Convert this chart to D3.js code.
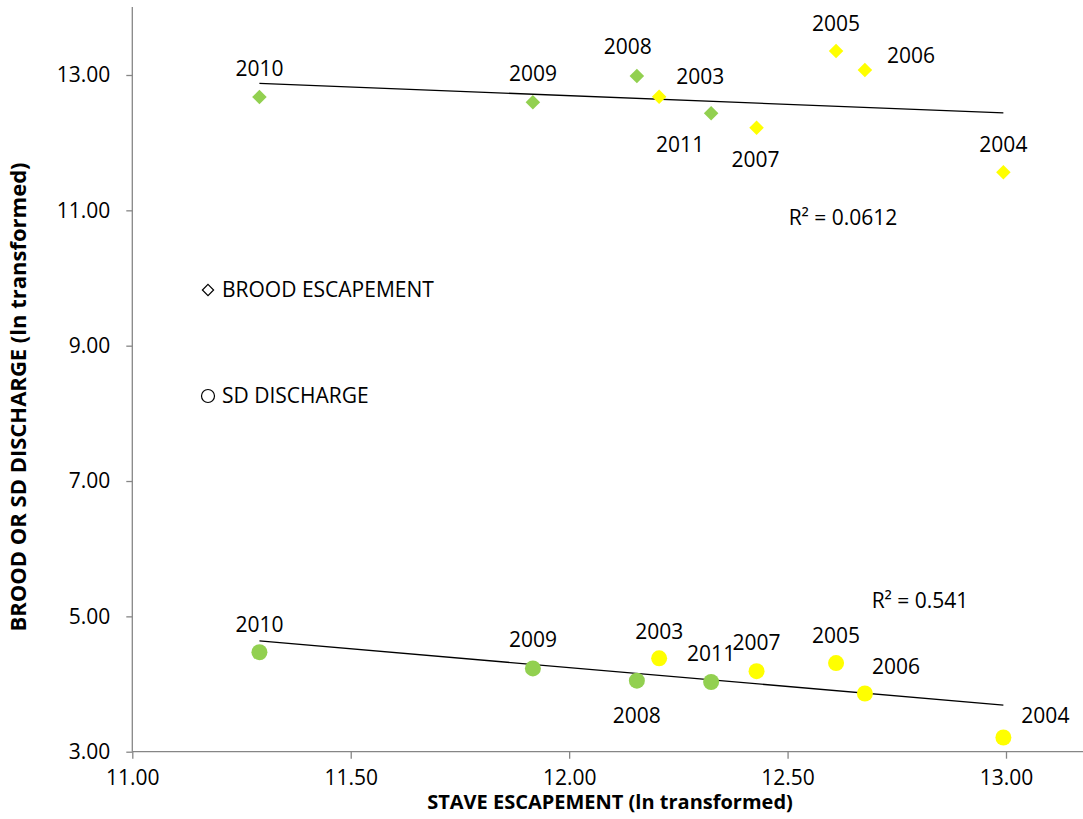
<!DOCTYPE html>
<html><head><meta charset="utf-8">
<script src="https://cdn.jsdelivr.net/npm/d3@7"></script>
<style>
html,body{margin:0;padding:0;background:#fff;}
svg text{font-family:"Open Sans",sans-serif;fill:#000;}
</style></head>
<body><svg id="chart" width="1083" height="819"></svg>
<script>
// ---- data ----
const years = ["2010","2009","2008","2003","2011","2007","2005","2006","2004"];
const staveEscapement = [11.291,11.917,12.155,12.206,12.325,12.429,12.611,12.677,12.994];
const broodEscapement = [12.675,12.597,12.985,12.679,12.434,12.221,13.355,13.074,11.562];
const sdDischarge = [4.47,4.23,4.05,4.38,4.03,4.19,4.31,3.86,3.21];
const group = ["recent","recent","recent","early","recent","early","early","early","early"];
const xTicks = [11.0,11.5,12.0,12.5,13.0];
const yTicks = [3,5,7,9,11,13];
const r2Brood = "R² = 0.0612";
const r2Discharge = "R² = 0.541";
const legendLabels = ["BROOD ESCAPEMENT","SD DISCHARGE"];
const xTitle = "STAVE ESCAPEMENT (ln transformed)";
const yTitle = "BROOD OR SD DISCHARGE (ln transformed)";

// ---- layout / style (not data) ----
const colors = {recent:"#92D050", early:"#FFFF00"};
const broodLabelOffset = [[0,-28],[0,-29],[-9,-29],[41,-20],[-31,31],[-1,32],[0,-27],[46,-14],[0,-28]];
const dischLabelOffset = [[0,-28],[0,-29],[0,35],[0,-27],[0,-28],[0,-29],[0,-27],[31,-27],[42,-22]];
const fs = "21px";

const svg = d3.select("#chart");
const x = d3.scaleLinear().domain([11,13]).range([132.3,1006]);
const y = d3.scaleLinear().domain([3,13]).range([751.7,75]);
const yTop = y.invert(7);

// axes
const axisColor = "#868686";
const gx = svg.append("g").attr("transform",`translate(0,${y(3)})`)
  .call(d3.axisBottom(x).tickValues(xTicks).tickFormat(d3.format(".2f")).tickSize(7).tickPadding(11));
gx.select(".domain").attr("d",`M${x(11)},0H1083`);
const gy = svg.append("g").attr("transform",`translate(${x(11)},0)`)
  .call(d3.axisLeft(y).tickValues(yTicks).tickFormat(d3.format(".2f")).tickSize(6).tickPadding(16));
gy.select(".domain").attr("d",`M0,${y(yTop)}V${y(3)}`);
[gx,gy].forEach(g=>{
  g.selectAll(".domain,.tick line").attr("stroke",axisColor).attr("stroke-width",1.3);
  g.selectAll("text").style("font-family","'Open Sans',sans-serif").style("font-size",fs).attr("fill","#000");
});

// axis titles
svg.append("text").attr("x",610).attr("y",809).attr("text-anchor","middle")
  .style("font-size","20px").style("font-weight","bold").text(xTitle);
svg.append("text").attr("transform","translate(26,397) rotate(-90)").attr("text-anchor","middle")
  .style("font-size","22px").style("font-weight","bold").text(yTitle);

// trendlines (least squares fit of the data)
function fit(xs,ys){
  const mx=d3.mean(xs), my=d3.mean(ys);
  const b=d3.sum(xs,(v,i)=>(v-mx)*(ys[i]-my))/d3.sum(xs,v=>(v-mx)**2);
  return v=>my+b*(v-mx);
}
const ext = d3.extent(staveEscapement);
[broodEscapement, sdDischarge].forEach(ys=>{
  const f=fit(staveEscapement,ys);
  svg.append("line").attr("x1",x(ext[0])).attr("y1",y(f(ext[0])))
    .attr("x2",x(ext[1])).attr("y2",y(f(ext[1]))).attr("stroke","#000").attr("stroke-width",1.3);
});

// points
const diamond = d3.symbol().type(d3.symbolDiamond2).size(135);
svg.append("g").selectAll("path").data(years).join("path")
  .attr("d",diamond).attr("transform",(d,i)=>`translate(${x(staveEscapement[i])},${y(broodEscapement[i])})`)
  .attr("fill",(d,i)=>colors[group[i]]);
svg.append("g").selectAll("circle").data(years).join("circle")
  .attr("cx",(d,i)=>x(staveEscapement[i])).attr("cy",(d,i)=>y(sdDischarge[i])).attr("r",8)
  .attr("fill",(d,i)=>colors[group[i]]);

// data labels
svg.append("g").selectAll("text").data(years).join("text")
  .attr("x",(d,i)=>x(staveEscapement[i])+broodLabelOffset[i][0])
  .attr("y",(d,i)=>y(broodEscapement[i])+broodLabelOffset[i][1])
  .attr("dy","0.35em").attr("text-anchor","middle").style("font-size",fs).text(d=>d);
svg.append("g").selectAll("text").data(years).join("text")
  .attr("x",(d,i)=>x(staveEscapement[i])+dischLabelOffset[i][0])
  .attr("y",(d,i)=>y(sdDischarge[i])+dischLabelOffset[i][1])
  .attr("dy","0.35em").attr("text-anchor","middle").style("font-size",fs).text(d=>d);

// R² labels
svg.append("text").attr("x",843).attr("y",218).attr("dy","0.35em").attr("text-anchor","middle")
  .style("font-size",fs).text(r2Brood);
svg.append("text").attr("x",920).attr("y",601).attr("dy","0.35em").attr("text-anchor","middle")
  .style("font-size",fs).text(r2Discharge);

// legend
const leg = svg.append("g");
leg.append("path").attr("d",d3.symbol().type(d3.symbolDiamond2).size(80)())
  .attr("transform","translate(208,290)").attr("fill","#fff").attr("stroke","#000").attr("stroke-width",1.2);
leg.append("circle").attr("cx",208).attr("cy",396).attr("r",6.5).attr("fill","#fff").attr("stroke","#000").attr("stroke-width",1.2);
leg.append("text").attr("x",222).attr("y",290).attr("dy","0.35em").style("font-size",fs).text(legendLabels[0]);
leg.append("text").attr("x",222).attr("y",396).attr("dy","0.35em").style("font-size",fs).text(legendLabels[1]);
</script></body></html>
